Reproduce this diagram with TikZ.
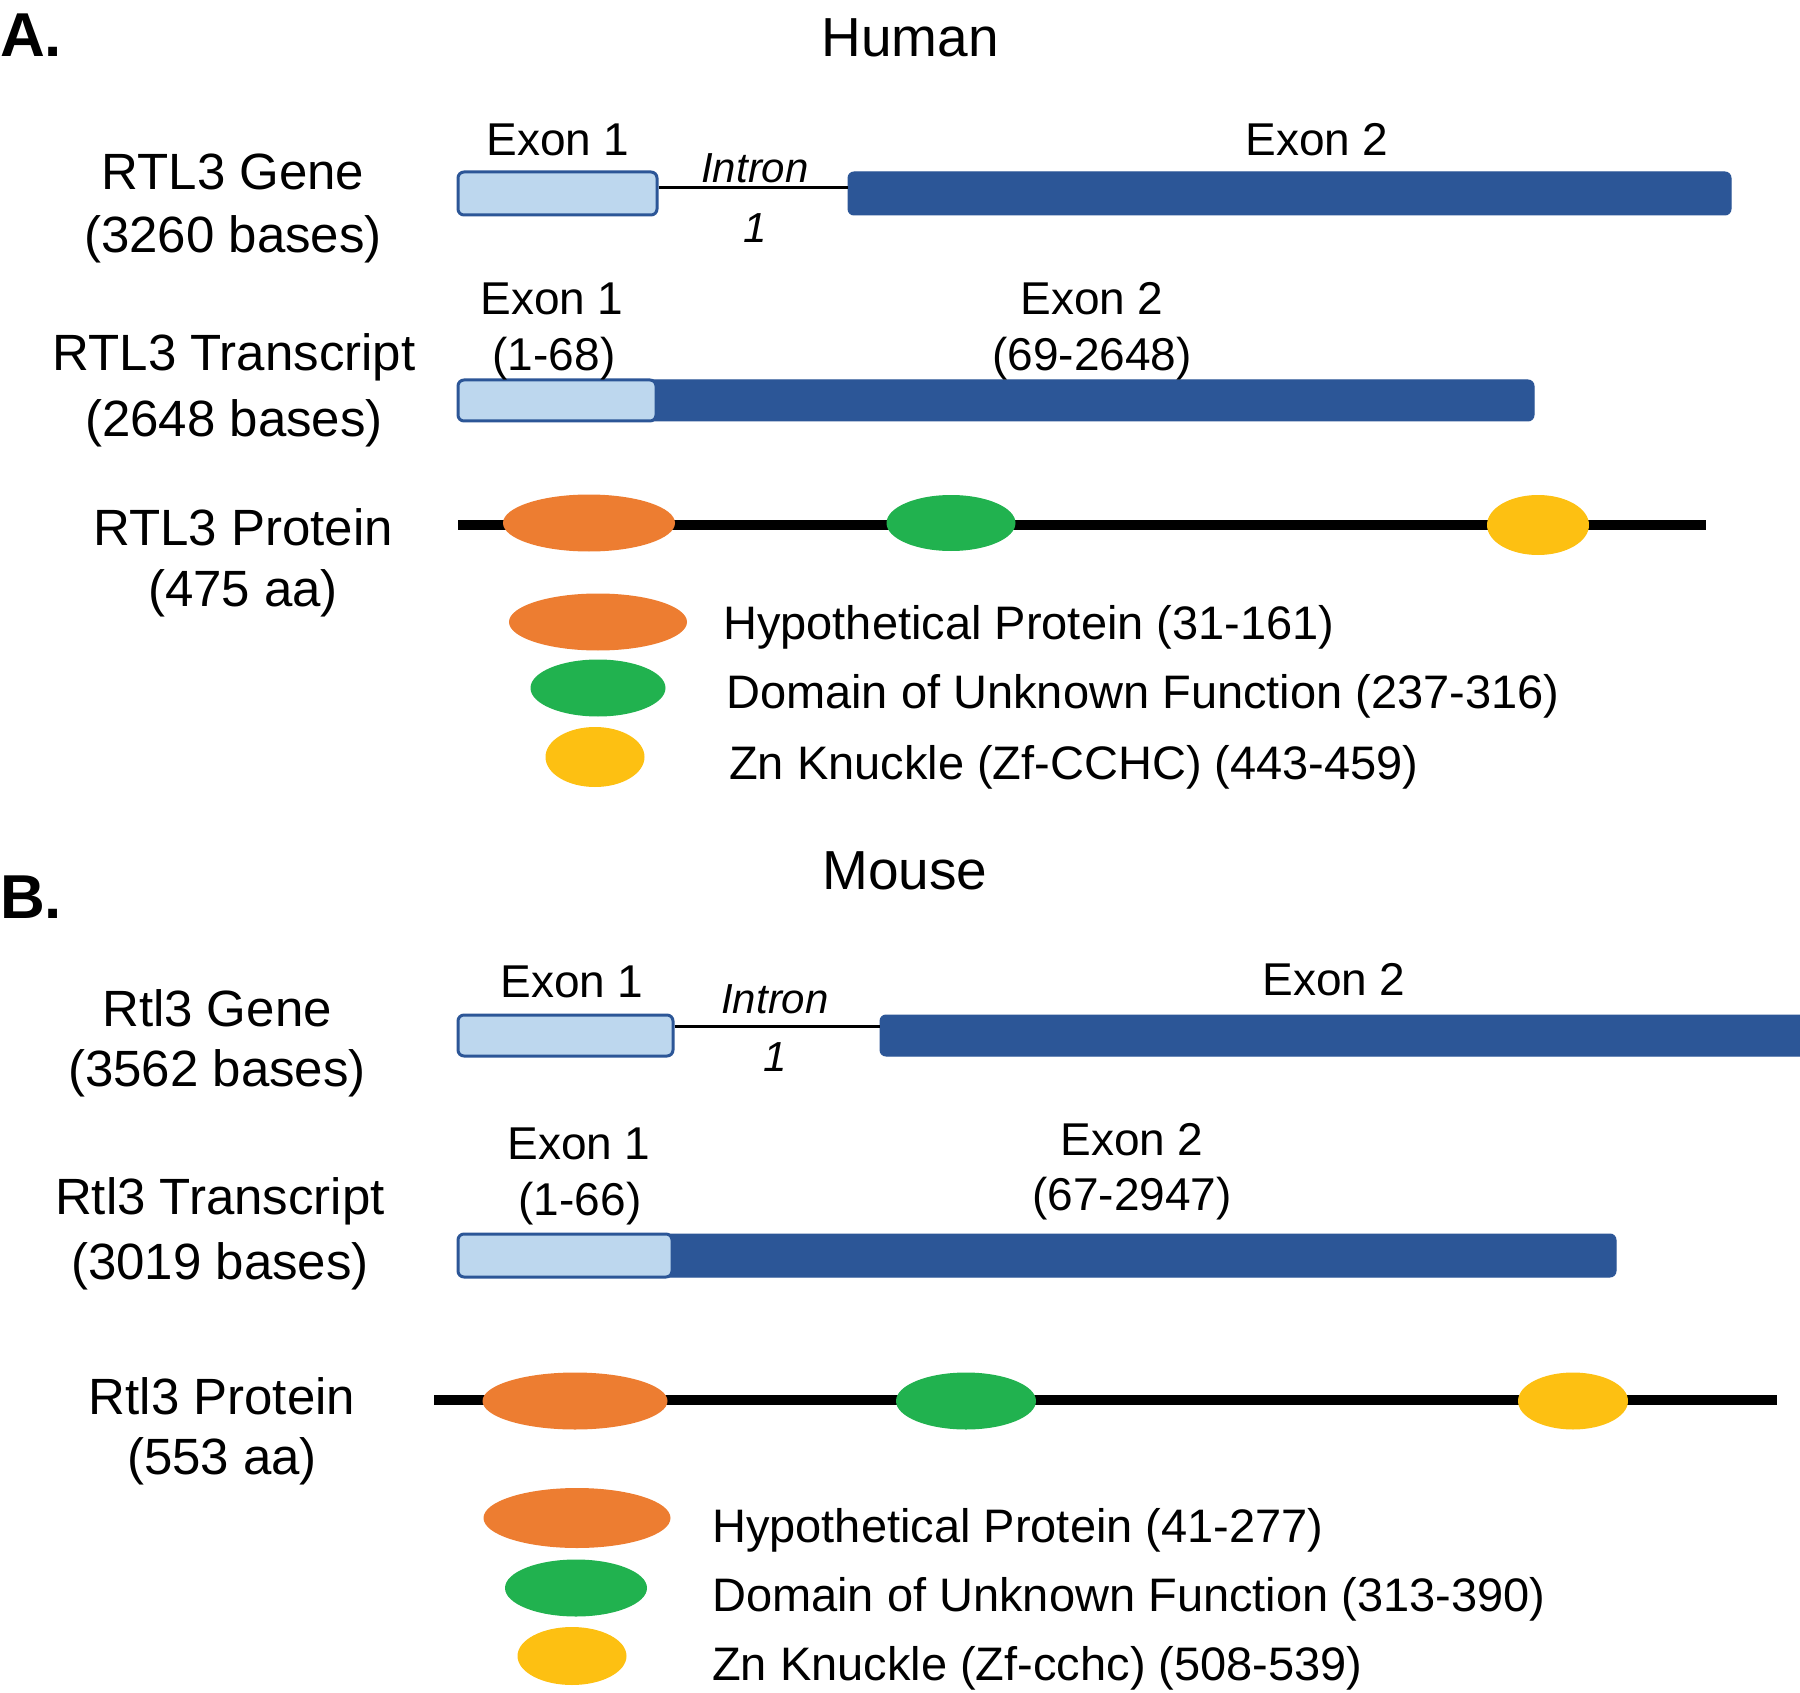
\documentclass[tikz,border=0pt]{standalone}
\usepackage{fontspec}
\setmainfont{Liberation Sans}
\usetikzlibrary{shapes.geometric}
\definecolor{lblue}{HTML}{BDD7EE}
\definecolor{dblue}{HTML}{2C5697}
\definecolor{dorange}{HTML}{ED7D31}
\definecolor{dgreen}{HTML}{21B24F}
\definecolor{dyellow}{HTML}{FDC012}
\tikzset{
  lab/.style={font=\fontsize{51}{58}\selectfont, inner sep=0},
  exlab/.style={font=\fontsize{46}{52}\selectfont, inner sep=0},
  intr/.style={font=\itshape\fontsize{42}{48}\selectfont, inner sep=0},
  ttl/.style={font=\fontsize{55}{62}\selectfont, inner sep=0},
  panel/.style={font=\bfseries\fontsize{62}{70}\selectfont, inner sep=0, anchor=west},
  legtxt/.style={font=\fontsize{47}{54}\selectfont, inner sep=0, anchor=west},
  exlight/.style={rectangle, rounded corners=6pt, fill=lblue, draw=dblue, line width=3pt, inner sep=0},
  exdark/.style={rectangle, rounded corners=6pt, fill=dblue, draw=dblue, line width=1pt, inner sep=0},
  intronline/.style={line width=2.5pt, black},
  protline/.style={line width=10pt, black},
  dom/.style={ellipse, inner sep=0, draw=none},
}
\begin{document}
\begin{tikzpicture}[x=1pt, y=-1pt]
\useasboundingbox (0,0) rectangle (1800,1693);
% ================= A =================
\node[panel] (pA) at (0,35) {A.};
\node[ttl] (hT) at (910,38) {Human};
\node[lab] (gA1) at (233,172) {RTL3 Gene};
\node[lab] (gA2) at (233,239) {(3260 bases)};
\node[exlight, minimum width=199pt, minimum height=43pt] (ga1) at (557.5,193.5) {};
\node[exdark, minimum width=883pt, minimum height=43pt] (ga2) at (1289.5,193.5) {};
\draw[intronline] ([yshift=6pt]ga1.east) -- ([yshift=6pt]ga2.west);
\node[exlab] (lga1) at (558,140) {Exon 1};
\node[intr] (lgi1) at (755,168) {Intron};
\node[intr] (lgi2) at (755,228) {1};
\node[exlab] (lga2) at (1317,140) {Exon 2};

\node[lab] (tA1) at (234,357) {RTL3 Transcript};
\node[lab] (tA2) at (234,423) {(2648 bases)};
\node[exdark, minimum width=888pt, minimum height=41pt] (ta2) at (1090,400.5) {};
\node[exlight, minimum width=198pt, minimum height=41pt] (ta1) at (557,400.5) {};
\node[exlab] (lta1) at (552,299) {Exon 1};
\node[exlab] (lta1b) at (554,359) {(1-68)};
\node[exlab] (lta2) at (1092,299) {Exon 2};
\node[exlab] (lta2b) at (1092,359) {(69-2648)};

\node[lab] (prA1) at (243,527) {RTL3 Protein};
\node[lab] (prA2) at (243,593) {(475 aa)};
\coordinate (pAs) at (458,525);
\coordinate (pAe) at (1706,525);
\draw[protline] (pAs) -- (pAe);
\node[dom, fill=dorange, minimum width=172pt, minimum height=57pt] (oA) at (589,523) {};
\node[dom, fill=dgreen, minimum width=129pt, minimum height=56pt] (gA) at (951,523) {};
\node[dom, fill=dyellow, minimum width=102pt, minimum height=60pt] (yA) at (1538,525) {};

\node[dom, fill=dorange, minimum width=178pt, minimum height=57pt] (loA) at (598,622) {};
\node[dom, fill=dgreen, minimum width=135pt, minimum height=57pt] (lgA) at (598,688) {};
\node[dom, fill=dyellow, minimum width=99pt, minimum height=60pt] (lyA) at (595,757) {};
\node[legtxt] (ltA1) at (723,627) {Hypothetical Protein (31-161)};
\node[legtxt] (ltA2) at (726,696) {Domain of Unknown Function (237-316)};
\node[legtxt] (ltA3) at (729,767) {Zn Knuckle (Zf-CCHC) (443-459)};

% ================= B =================
\node[panel] (pB) at (0,897) {B.};
\node[ttl] (mT) at (905,871) {Mouse};
\node[lab] (gB1) at (217,1008) {Rtl3 Gene};
\node[lab] (gB2) at (217,1073) {(3562 bases)};
\node[exlight, minimum width=215pt, minimum height=41pt] (gb1) at (565.5,1035.5) {};
\node[exdark, minimum width=930pt, minimum height=41pt] (gb2) at (1345,1035.5) {};
\draw[intronline] ([yshift=9pt]gb1.east) -- ([yshift=9pt]gb2.west);
\node[exlab] (lgb1) at (572,982) {Exon 1};
\node[intr] (lgbi1) at (775,999) {Intron};
\node[intr] (lgbi2) at (775,1057) {1};
\node[exlab] (lgb2) at (1334,980) {Exon 2};

\node[lab] (tB1) at (220,1201) {Rtl3 Transcript};
\node[lab] (tB2) at (220,1266) {(3019 bases)};
\node[exdark, minimum width=954pt, minimum height=43pt] (tb2) at (1139,1255.5) {};
\node[exlight, minimum width=214pt, minimum height=43pt] (tb1) at (565,1255.5) {};
\node[exlab] (ltb1) at (579,1144) {Exon 1};
\node[exlab] (ltb1b) at (580,1204) {(1-66)};
\node[exlab] (ltb2) at (1132,1140) {Exon 2};
\node[exlab] (ltb2b) at (1132,1199) {(67-2947)};

\node[lab] (prB1) at (222,1396) {Rtl3 Protein};
\node[lab] (prB2) at (222,1461) {(553 aa)};
\coordinate (pBs) at (434,1400);
\coordinate (pBe) at (1777,1400);
\draw[protline] (pBs) -- (pBe);
\node[dom, fill=dorange, minimum width=185pt, minimum height=57pt] (oB) at (575,1401) {};
\node[dom, fill=dgreen, minimum width=140pt, minimum height=57pt] (gB) at (966,1401) {};
\node[dom, fill=dyellow, minimum width=110pt, minimum height=57pt] (yB) at (1573,1401) {};

\node[dom, fill=dorange, minimum width=187pt, minimum height=60pt] (loB) at (577,1518) {};
\node[dom, fill=dgreen, minimum width=142pt, minimum height=57pt] (lgB) at (576,1588) {};
\node[dom, fill=dyellow, minimum width=109pt, minimum height=58pt] (lyB) at (572,1656) {};
\node[legtxt] (ltB1) at (712,1530) {Hypothetical Protein (41-277)};
\node[legtxt] (ltB2) at (712,1599) {Domain of Unknown Function (313-390)};
\node[legtxt] (ltB3) at (712,1668) {Zn Knuckle (Zf-cchc) (508-539)};
\end{tikzpicture}
\end{document}
